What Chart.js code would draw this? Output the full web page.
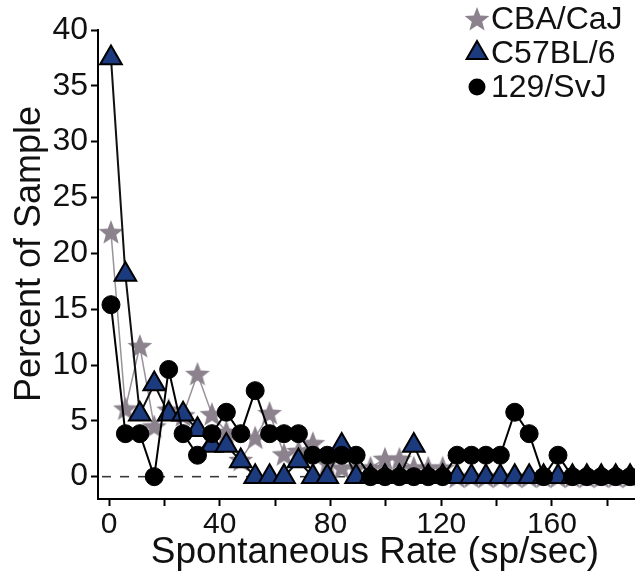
<!DOCTYPE html>
<html>
<head>
<meta charset="utf-8">
<script src="https://cdn.jsdelivr.net/npm/chart.js@4.4.0/dist/chart.umd.min.js"></script>
<style>
html,body{margin:0;padding:0;background:#ffffff;}
#wrap{width:635px;height:581px;position:relative;}
</style>
</head>
<body>
<div id="wrap"><canvas id="c" width="635" height="581"></canvas></div>
<script>
// ---- data ----
const rates = [0,5,10,15,20,25,30,35,40,45,50,55,60,65,70,75,80,85,90,95,100,105,110,115,120,125,130,135,140,145,150,155,160,165,170,175,180];
const cbaCaJ = [21.9,6.1,11.7,4.5,6.0,5.5,9.2,5.6,4.0,1.5,3.5,5.7,2.0,2.3,3.0,1.2,0.8,0.8,0.8,1.6,1.6,0.8,0.8,0.8,0,0,0,0,0,0,0,0,0,0,0,0,0];
const c57bl6 = [37.5,18.1,5.6,8.3,5.6,5.6,4.2,2.8,2.8,1.4,0,0,0,1.4,0,0,2.8,0,0,0,0,2.8,0,0,0,0,0,0,0,0,0,0,0,0,0,0,0];
const svj129 = [15.4,3.85,3.85,0,9.6,3.85,1.92,3.85,5.77,3.85,7.7,3.85,3.85,3.85,1.92,1.92,1.92,1.92,0,0,0,0,0,0,1.92,1.92,1.92,1.92,5.77,3.85,0,1.92,0,0,0,0,0];
const seriesNames = ['CBA/CaJ','C57BL/6','129/SvJ'];
const xTickValues = [0,20,40,60,80,100,120,140,160,180];
const xTickLabels = ['0','','40','','80','','120','','160',''];
const yTickValues = [0,5,10,15,20,25,30,35,40];
const yTickLabels = ['0','5','10','15','20','25','30','35','40'];
const xTitle = 'Spontaneous Rate (sp/sec)';
const yTitle = 'Percent of Sample';

// ---- marker images ----
const STAR_FILL = '#8b828d';
function starPath(ctx, cx, cy, ro, ri){
  ctx.beginPath();
  for(let i=0;i<10;i++){
    const r = i%2===0 ? ro : ri;
    const a = -Math.PI/2 + i*Math.PI/5;
    const px = cx + r*Math.cos(a), py = cy + r*Math.sin(a);
    if(i===0) ctx.moveTo(px,py); else ctx.lineTo(px,py);
  }
  ctx.closePath();
}
const starImg = document.createElement('canvas');
starImg.width = 28; starImg.height = 28;
(function(){
  const g = starImg.getContext('2d');
  starPath(g, 14, 15, 13, 5.5);
  g.fillStyle = STAR_FILL; g.fill();
})();

const FONT = '"Liberation Sans", Arial, Helvetica, sans-serif';

const zeroLine = {
  id:'zeroLine',
  beforeDatasetsDraw(chart){
    const ctx = chart.ctx, y = chart.scales.y.getPixelForValue(0), a = chart.chartArea;
    ctx.save();
    ctx.strokeStyle = '#3a3a3a'; ctx.lineWidth = 1.6; ctx.setLineDash([9,9]);
    ctx.beginPath(); ctx.moveTo(a.left+4, y); ctx.lineTo(a.right, y); ctx.stroke();
    ctx.restore();
  }
};

const textPlugin = {
  id:'ownText',
  afterDraw(chart){
    const ctx = chart.ctx;
    ctx.save();
    // axis titles
    ctx.fillStyle = '#111'; ctx.textAlign = 'center'; ctx.textBaseline = 'middle';
    ctx.font = '37px ' + FONT;
    ctx.fillText(xTitle, 375, 553);
    ctx.save(); ctx.translate(30, 254); ctx.rotate(-Math.PI/2);
    ctx.font = '36px ' + FONT; ctx.fillText(yTitle, 0, 0); ctx.restore();
    // legend
    const mx = 477, tx = 491, rows = [19, 53, 87];
    starPath(ctx, mx, rows[0]+1, 13, 5.5); ctx.fillStyle = STAR_FILL; ctx.fill();
    const r = 12;
    ctx.beginPath();
    ctx.moveTo(mx, rows[1]-r);
    ctx.lineTo(mx + r*Math.cos(Math.PI/6), rows[1] + r*0.5);
    ctx.lineTo(mx - r*Math.cos(Math.PI/6), rows[1] + r*0.5);
    ctx.closePath();
    ctx.fillStyle = '#1c3a7e'; ctx.fill(); ctx.lineWidth = 2; ctx.strokeStyle = '#000'; ctx.stroke();
    ctx.beginPath(); ctx.arc(mx, rows[2], 8.5, 0, Math.PI*2); ctx.fillStyle = '#000'; ctx.fill();
    ctx.fillStyle = '#111';
    ctx.font = '32px ' + FONT;
    ctx.textAlign = 'left';
    seriesNames.forEach((n,i)=>ctx.fillText(n, tx, rows[i]+1));
    ctx.restore();
  }
};

const mk = (vals) => rates.map((r,i)=>({x:r, y:vals[i]}));

new Chart(document.getElementById('c'), {
  type:'line',
  data:{
    datasets:[
      {label:seriesNames[0], data:mk(cbaCaJ), xAxisID:'xd', yAxisID:'y', order:2,
       borderColor:'#9a929b', borderWidth:1.5, pointStyle:starImg, pointRadius:13, tension:0},
      {label:seriesNames[1], data:mk(c57bl6), xAxisID:'xd', yAxisID:'y', order:1,
       borderColor:'#111111', borderWidth:2, pointStyle:'triangle', pointRadius:12.5,
       pointBackgroundColor:'#1c3a7e', pointBorderColor:'#000', pointBorderWidth:2, tension:0},
      {label:seriesNames[2], data:mk(svj129), xAxisID:'xd', yAxisID:'y', order:0,
       borderColor:'#000000', borderWidth:2, pointStyle:'circle', pointRadius:9,
       pointBackgroundColor:'#000', pointBorderColor:'#000', pointBorderWidth:1, tension:0}
    ]
  },
  options:{
    responsive:false, animation:false, devicePixelRatio:1,
    layout:{autoPadding:false, padding:{left:0,right:0,top:30,bottom:0}},
    plugins:{legend:{display:false}, tooltip:{enabled:false}},
    elements:{line:{fill:false}},
    scales:{
      xd:{type:'linear', display:false, min:-4.5, max:181.7},
      x:{type:'linear', position:'bottom', min:-4, max:190,
        afterBuildTicks:(s)=>{ s.ticks = xTickValues.map(v=>({value:v})); },
        afterFit:(s)=>{ s.height = 82; s.paddingLeft = 0; s.paddingRight = 0; },
        ticks:{autoSkip:false, maxRotation:0, padding:1, color:'#111',
          font:{family:FONT, size:30},
          callback:(v)=>{ const i = xTickValues.indexOf(v); return i>=0 ? xTickLabels[i] : ''; }},
        grid:{drawOnChartArea:false, drawTicks:true, tickLength:7, tickColor:'#000', tickWidth:2},
        border:{display:true, color:'#000', width:2},
        title:{display:false}
      },
      y:{type:'linear', min:-2, max:40,
        afterBuildTicks:(s)=>{ s.ticks = yTickValues.map(v=>({value:v})); },
        afterFit:(s)=>{ s.width = 98; },
        ticks:{autoSkip:false, padding:3, color:'#111', font:{family:FONT, size:32},
          callback:(v)=>{ const i = yTickValues.indexOf(v); return i>=0 ? yTickLabels[i] : ''; }},
        grid:{drawOnChartArea:false, drawTicks:true, tickLength:7, tickColor:'#000', tickWidth:2},
        border:{display:true, color:'#000', width:2},
        title:{display:false}
      }
    }
  },
  plugins:[zeroLine, textPlugin]
});
</script>
</body>
</html>
